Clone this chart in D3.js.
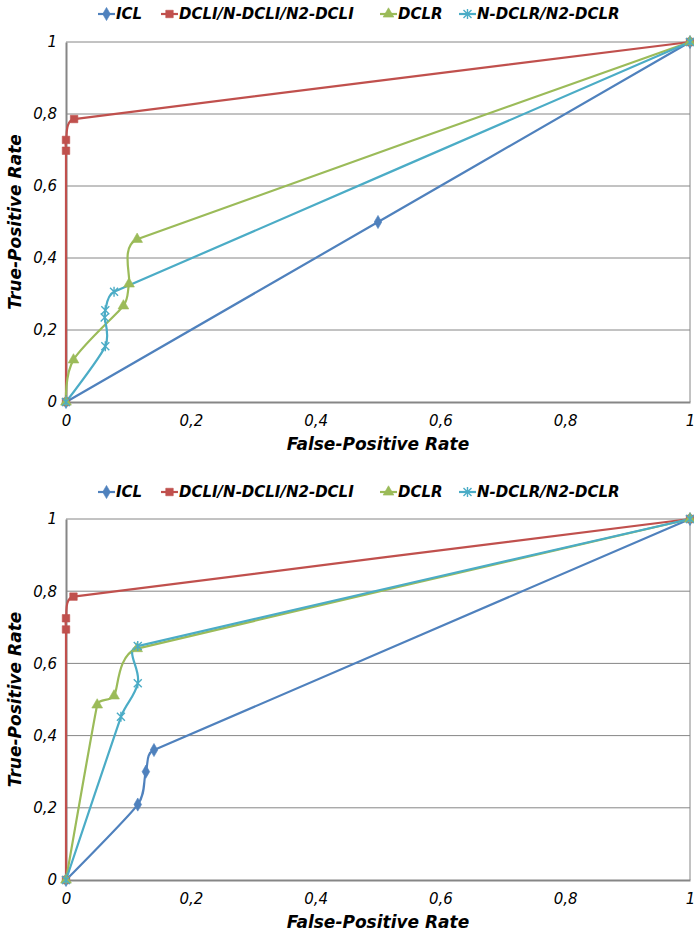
<!DOCTYPE html>
<html>
<head>
<meta charset="utf-8">
<script src="https://cdn.jsdelivr.net/npm/d3@7"></script>
<style>
  html, body { margin: 0; padding: 0; background: #ffffff; }
  svg { display: block; }
</style>
</head>
<body>
<svg id="chart" width="694" height="936"></svg>
<script>
// Series names and colours
const seriesNames = ["ICL", "DCLI/N-DCLI/N2-DCLI", "DCLR", "N-DCLR/N2-DCLR"];
const seriesColors = ["#4F81BD", "#C0504D", "#9BBB59", "#4BACC6"];
const seriesMarkers = ["diamond", "square", "triangle", "star"];

// Axis ticks
const xTicks = [0, 0.2, 0.4, 0.6, 0.8, 1];
const yTicks = [0, 0.2, 0.4, 0.6, 0.8, 1];
const xTitle = "False-Positive Rate";
const yTitle = "True-Positive Rate";

// Upper chart: ROC points (false-positive rate, true-positive rate)
const iclFprA = [0, 0.5, 1];
const iclTprA = [0, 0.5, 1];
const dcliFprA = [0, 0, 0, 0.013, 1];
const dcliTprA = [0, 0.698, 0.728, 0.786, 1];
const dclrFprA = [0, 0.012, 0.092, 0.101, 0.114, 1];
const dclrTprA = [0, 0.117, 0.267, 0.328, 0.452, 1];
const ndclrFprA = [0, 0.063, 0.062, 0.063, 0.077, 1];
const ndclrTprA = [0, 0.155, 0.235, 0.255, 0.306, 1];

// Lower chart
const iclFprB = [0, 0.115, 0.128, 0.141, 1];
const iclTprB = [0, 0.209, 0.30, 0.36, 1];
const dcliFprB = [0, 0, 0, 0.012, 1];
const dcliTprB = [0, 0.694, 0.725, 0.785, 1];
const dclrFprB = [0, 0.05, 0.077, 0.114, 1];
const dclrTprB = [0, 0.485, 0.51, 0.641, 1];
const ndclrFprB = [0, 0.088, 0.115, 0.115, 1];
const ndclrTprB = [0, 0.452, 0.545, 0.648, 1];

const panels = [
  {
    top: 42, bottom: 402, legendY: 14,
    series: [[iclFprA, iclTprA], [dcliFprA, dcliTprA], [dclrFprA, dclrTprA], [ndclrFprA, ndclrTprA]]
  },
  {
    top: 519, bottom: 880, legendY: 492,
    series: [[iclFprB, iclTprB], [dcliFprB, dcliTprB], [dclrFprB, dclrTprB], [ndclrFprB, ndclrTprB]]
  }
];

const svg = d3.select("#chart");
const plotLeft = 66, plotRight = 690;
const gridColor = "#868686";
const fmt = v => (v === 0 || v === 1) ? String(v) : String(v).replace(".", ",");

// Smoothed line through screen points: tangent from the neighbours, handle
// length limited by the shorter adjacent segment so long spans stay straight.
function smoothPath(pts, k) {
  const p = d3.path();
  const n = pts.length;
  const dist = (a, b) => Math.hypot(b[0] - a[0], b[1] - a[1]);
  const tangent = i => {
    const a = pts[Math.max(0, i - 1)], b = pts[Math.min(n - 1, i + 1)];
    const d = dist(a, b) || 1;
    return [(b[0] - a[0]) / d, (b[1] - a[1]) / d];
  };
  p.moveTo(pts[0][0], pts[0][1]);
  for (let i = 0; i < n - 1; i++) {
    const a = pts[i], b = pts[i + 1];
    const seg = dist(a, b);
    const prev = i > 0 ? dist(pts[i - 1], a) : 0;
    const next = i + 2 < n ? dist(b, pts[i + 2]) : 0;
    const ta = tangent(i), tb = tangent(i + 1);
    const ha = k * (i > 0 ? Math.min(seg, prev) : 0);
    const hb = k * (i + 2 < n ? Math.min(seg, next) : 0);
    p.bezierCurveTo(a[0] + ta[0] * ha, a[1] + ta[1] * ha,
                    b[0] - tb[0] * hb, b[1] - tb[1] * hb,
                    b[0], b[1]);
  }
  return p.toString();
}

function markerPath(kind) {
  if (kind === "diamond") return d3.symbol(d3.symbolDiamond, 50)();
  if (kind === "square") return d3.symbol(d3.symbolSquare, 56)();
  if (kind === "triangle") return d3.symbol(d3.symbolTriangle, 50)();
  // asterisk: an x with a vertical stroke
  const r = 4;
  return `M${-r},${-r}L${r},${r}M${-r},${r}L${r},${-r}M0,${-r - 1}L0,${r + 1}`;
}

function drawMarker(g, kind, color, x, y) {
  const p = g.append("path")
    .attr("d", markerPath(kind))
    .attr("transform", `translate(${x},${y})`);
  if (kind === "star") {
    p.attr("fill", "none").attr("stroke", color).attr("stroke-width", 1.4);
  } else {
    p.attr("fill", color).attr("stroke", color).attr("stroke-width", 0.6);
  }
}

panels.forEach(panel => {
  const x = d3.scaleLinear().domain([0, 1]).range([plotLeft, plotRight]);
  const y = d3.scaleLinear().domain([0, 1]).range([panel.bottom, panel.top]);
  const g = svg.append("g");

  // Horizontal gridlines
  g.append("g").selectAll("line").data(yTicks.filter(t => t > 0)).join("line")
    .attr("x1", plotLeft).attr("x2", plotRight)
    .attr("y1", d => y(d)).attr("y2", d => y(d))
    .attr("stroke", gridColor).attr("stroke-width", 1);

  // Right border of the plot area
  g.append("line")
    .attr("x1", plotRight).attr("x2", plotRight)
    .attr("y1", y(1)).attr("y2", y(0))
    .attr("stroke", gridColor).attr("stroke-width", 1);

  // Axes
  const xAxis = d3.axisBottom(x).tickValues(xTicks).tickSize(0).tickPadding(10).tickFormat(fmt);
  const yAxis = d3.axisLeft(y).tickValues(yTicks).tickSize(0).tickPadding(9).tickFormat(fmt);

  const gx = g.append("g").attr("transform", `translate(0,${panel.bottom})`).call(xAxis);
  const gy = g.append("g").attr("transform", `translate(${plotLeft},0)`).call(yAxis);
  [gx, gy].forEach(a => {
    a.select(".domain").attr("stroke", gridColor).attr("stroke-width", 2);
    a.selectAll("text")
      .attr("font-family", "DejaVu Sans, Verdana, sans-serif")
      .attr("font-style", "italic")
      .attr("font-size", 15)
      .attr("fill", "#000");
  });
  gx.selectAll("text").attr("dy", "0.95em");

  // Axis titles
  g.append("text")
    .attr("x", (plotLeft + plotRight) / 2).attr("y", panel.bottom + 48)
    .attr("text-anchor", "middle")
    .attr("font-family", "DejaVu Sans, Verdana, sans-serif")
    .attr("font-weight", "bold").attr("font-style", "italic")
    .attr("font-size", 17)
    .text(xTitle);
  g.append("text")
    .attr("transform", `translate(21,${(panel.top + panel.bottom) / 2}) rotate(-90)`)
    .attr("text-anchor", "middle")
    .attr("font-family", "DejaVu Sans, Verdana, sans-serif")
    .attr("font-weight", "bold").attr("font-style", "italic")
    .attr("font-size", 17)
    .text(yTitle);

  // Smoothed series lines and markers
  panel.series.forEach((s, i) => {
    const pts = s[0].map((v, k) => [x(v), y(s[1][k])]);
    g.append("path")
      .attr("d", smoothPath(pts, 0.4))
      .attr("fill", "none")
      .attr("stroke", seriesColors[i])
      .attr("stroke-width", 2.2);
  });
  panel.series.forEach((s, i) => {
    s[0].forEach((v, k) => drawMarker(g, seriesMarkers[i], seriesColors[i], x(v), y(s[1][k])));
  });

  // Legend
  const legendX = [98, 161, 380, 459];
  const lg = g.append("g");
  seriesNames.forEach((name, i) => {
    const lx = legendX[i], ly = panel.legendY;
    lg.append("line")
      .attr("x1", lx).attr("x2", lx + 17)
      .attr("y1", ly).attr("y2", ly)
      .attr("stroke", seriesColors[i]).attr("stroke-width", 2.2);
    drawMarker(lg, seriesMarkers[i], seriesColors[i], lx + 8.5, ly);
    lg.append("text")
      .attr("x", lx + 18).attr("y", ly).attr("dy", "0.36em")
      .attr("font-family", "DejaVu Sans, Verdana, sans-serif")
      .attr("font-weight", "bold").attr("font-style", "italic")
      .attr("font-size", 15)
      .text(name);
  });
});
</script>
</body>
</html>
